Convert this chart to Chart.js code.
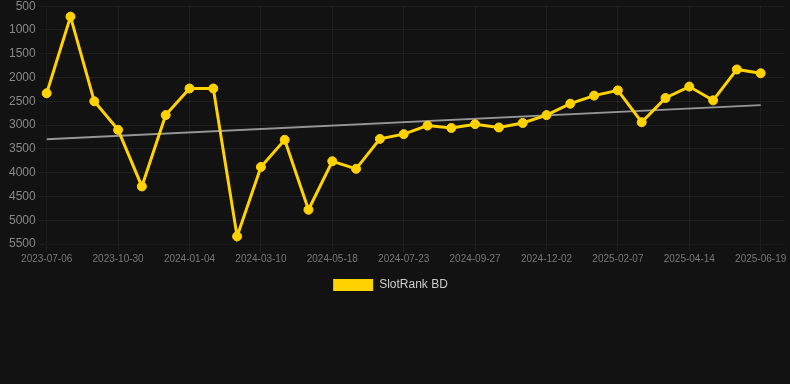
<!DOCTYPE html>
<html>
<head>
<meta charset="utf-8">
<script src="https://cdn.jsdelivr.net/npm/chart.js@4"></script>
<style>
    html, body { margin: 0; padding: 0; background: #121212; overflow: hidden; }
    #wrap { width: 790px; height: 302px; margin-top: -4px; }
</style>
</head>
<body>
<div id="wrap"><canvas id="rank-chart"></canvas></div>
<script>
// Dates on the x axis (one per data point)
var dates = [
    '2023-07-06', '2023-08-14', '2023-09-22', '2023-10-30', '2023-11-21', '2023-12-13',
    '2024-01-04', '2024-01-26', '2024-02-17', '2024-03-10', '2024-04-02', '2024-04-25',
    '2024-05-18', '2024-06-09', '2024-07-01', '2024-07-23', '2024-08-14', '2024-09-05',
    '2024-09-27', '2024-10-19', '2024-11-10', '2024-12-02', '2024-12-24', '2025-01-16',
    '2025-02-07', '2025-03-01', '2025-03-23', '2025-04-14', '2025-05-06', '2025-05-28',
    '2025-06-19'
];

// SlotRank BD values
var slotRank = [
    2330, 720, 2500, 3100, 4290, 2790, 2230, 2230, 5340, 3880,
    3310, 4780, 3760, 3920, 3290, 3190, 3010, 3060, 2980, 3050,
    2955, 2790, 2550, 2380, 2270, 2940, 2430, 2190, 2480, 1830,
    1910
];

// Trend line, first and last value
var trendEnds = [3300, 2580];

// Y axis ticks
var yMin = 500;
var yMax = 5500;
var yStep = 500;

var trend = dates.map(function(d, i) {
    if (i === 0) return trendEnds[0];
    if (i === dates.length - 1) return trendEnds[1];
    return null;
});

var fontFamily = 'Arial, "Liberation Sans", sans-serif';

// nudge the legend a little to the left and down
var legendShift = {
    id: 'legendShift',
    afterLayout: function(chart) {
        if (chart.legend) {
            chart.legend.left -= 10;
            chart.legend.right -= 10;
            chart.legend.top += 3;
            chart.legend.bottom += 3;
        }
    }
};

var ctx = document.getElementById('rank-chart');
new Chart(ctx, {
    type: 'line',
    data: {
        labels: dates.concat(['']),
        datasets: [{
            label: 'SlotRank BD',
            data: slotRank,
            borderColor: '#FFD200',
            backgroundColor: '#FFD200',
            borderWidth: 3,
            pointRadius: 4.5,
            pointBorderWidth: 1,
            tension: 0
        }, {
            label: 'Trend',
            data: trend,
            borderColor: 'rgba(150, 150, 150, 1)',
            borderWidth: 2,
            pointRadius: 0,
            spanGaps: true
        }]
    },
    options: {
        responsive: true,
        maintainAspectRatio: false,
        animation: false,
        layout: { padding: { left: 6, right: -5 } },
        scales: {
            x: {
                grid: { color: 'rgba(255, 255, 255, 0.05)' },
                ticks: {
                    color: '#777',
                    padding: 1,
                    font: { size: 10, family: fontFamily },
                    maxRotation: 0,
                    autoSkip: true,
                    callback: function(val, i) {
                        return i % 3 === 0 ? this.getLabelForValue(val) : null;
                    }
                }
            },
            y: {
                reverse: true,
                min: yMin,
                max: yMax,
                grid: { color: 'rgba(255, 255, 255, 0.05)' },
                ticks: {
                    stepSize: yStep,
                    color: '#888',
                    font: { size: 12, family: fontFamily },
                    callback: function(val) { return String(val); }
                }
            }
        },
        plugins: {
            legend: {
                position: 'bottom',
                labels: {
                    color: '#ccc',
                    boxWidth: 40,
                    boxHeight: 12,
                    font: { size: 12, family: fontFamily },
                    filter: function(item) {
                        item.lineWidth = 0;
                        return item.text !== 'Trend';
                    }
                }
            },
            tooltip: { enabled: false }
        }
    },
    plugins: [legendShift]
});
</script>
</body>
</html>
